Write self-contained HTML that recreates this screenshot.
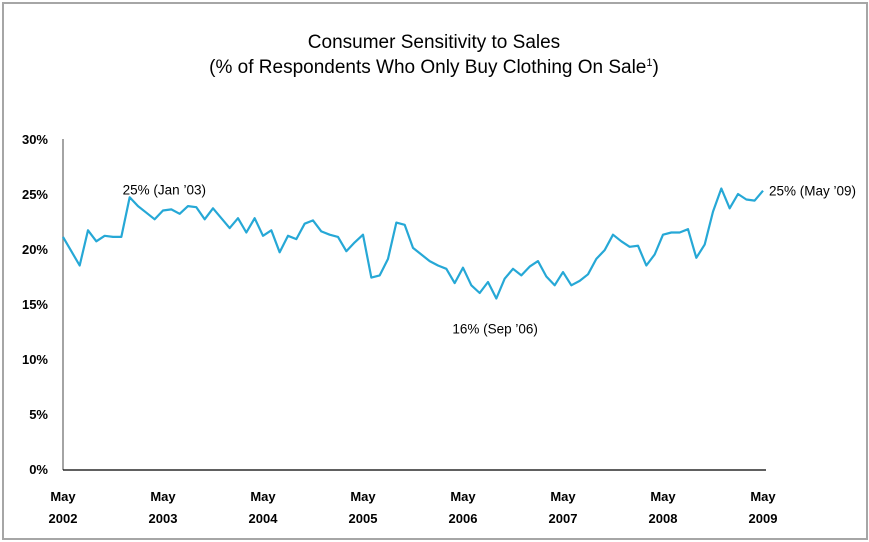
<!DOCTYPE html>
<html><head><meta charset="utf-8"><style>
body{margin:0;background:#fff;}
#frame{position:absolute;left:2px;top:2px;width:862px;height:534px;border:2px solid #a6a6a6;box-sizing:content-box;}
svg{position:absolute;left:0;top:0;}
text{font-family:"Liberation Sans",sans-serif;}
</style></head><body>
<div id="frame"></div>
<svg id="c" width="869" height="542">
<text x="434" y="48" text-anchor="middle" font-size="19" fill="#000">Consumer Sensitivity to Sales</text>
<text x="434" y="73" text-anchor="middle" font-size="19" fill="#000">(% of Respondents Who Only Buy Clothing On Sale<tspan font-size="11" dy="-7">1</tspan><tspan dy="7">)</tspan></text>
</svg>
<script>
const yTicks=[0,5,10,15,20,25,30];
const yTickLabels=["0%","5%","10%","15%","20%","25%","30%"];
const xTickIdx=[0,12,24,36,48,60,72,84];
const xTickYears=["2002","2003","2004","2005","2006","2007","2008","2009"];
const values=[21.1,19.8,18.5,21.7,20.7,21.2,21.1,21.1,24.7,23.9,23.3,22.7,23.5,23.6,23.2,23.9,23.8,22.7,23.7,22.8,21.9,22.8,21.5,22.8,21.2,21.7,19.7,21.2,20.9,22.3,22.6,21.6,21.3,21.1,19.8,20.6,21.3,17.4,17.6,19.1,22.4,22.2,20.1,19.5,18.9,18.5,18.2,16.9,18.3,16.7,16.0,17.0,15.5,17.3,18.2,17.6,18.4,18.9,17.5,16.7,17.9,16.7,17.1,17.7,19.1,19.9,21.3,20.7,20.2,20.3,18.5,19.5,21.3,21.5,21.5,21.8,19.2,20.4,23.4,25.5,23.7,25.0,24.5,24.4,25.3];
const annIdx=[8,52,84];
const annText=["25% (Jan \u201903)","16% (Sep \u201906)","25% (May \u201909)"];
const x0=63,x1=763,y0=469,y1=139;
const X=i=>x0+(x1-x0)*i/84;
const Y=v=>y0-(y0-y1)*v/30;
const svg=document.getElementById('c');
const NS='http://www.w3.org/2000/svg';
function mk(t,a){const e=document.createElementNS(NS,t);for(const k in a)e.setAttribute(k,a[k]);svg.appendChild(e);return e;}
yTicks.forEach((v,i)=>{
 const t=mk('text',{x:48,y:Y(v)+5,'text-anchor':'end','font-size':'13','font-weight':'bold'});
 
 
 t.textContent=yTickLabels[i];
});
const ax=mk('line',{x1:x0,y1:y1,x2:x0,y2:y0+1,stroke:'#868686','stroke-width':1.5});


const bx=mk('line',{x1:x0,y1:y0+1,x2:766,y2:y0+1,stroke:'#000','stroke-width':1.2});


xTickIdx.forEach((idx,i)=>{
 const a=mk('text',{x:X(idx),y:501,'text-anchor':'middle','font-size':'13','font-weight':'bold'});
 
 
 a.textContent='May';
 const b=mk('text',{x:X(idx),y:523,'text-anchor':'middle','font-size':'13','font-weight':'bold'});
 
 
 b.textContent=xTickYears[i];
});
const p=mk('polyline',{points:values.map((v,i)=>X(i)+','+Y(v)).join(' '),fill:'none',stroke:'#26a8d6','stroke-width':2.2,'stroke-linejoin':'round'});


const offs=[[-7,-3],[-44,35],[6,5]];
annIdx.forEach((idx,i)=>{
 const t=mk('text',{x:X(idx)+offs[i][0],y:Y(values[idx])+offs[i][1],'font-size':'13.5'});
 
 
 t.textContent=annText[i];
});
</script>
</body></html>
